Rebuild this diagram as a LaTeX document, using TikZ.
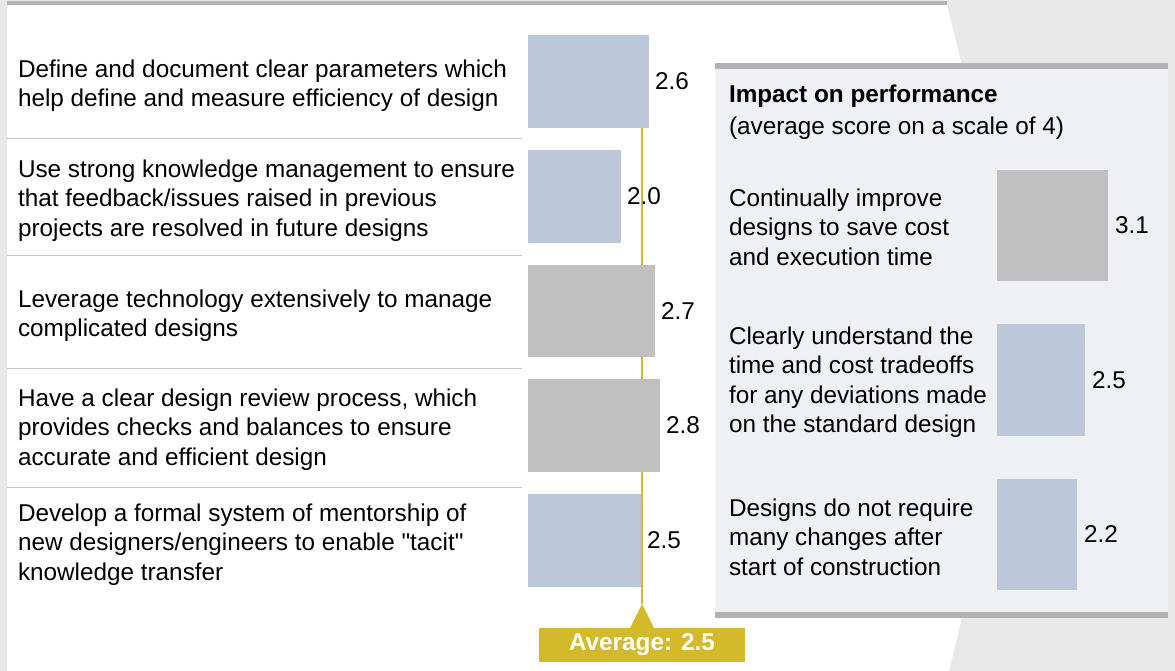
\documentclass[tikz,border=0pt]{standalone}
\usepackage{fontspec}
\setmainfont{Liberation Sans}
\newfontfamily\plainsans{Liberation Sans}
\definecolor{bggrey}{HTML}{E8E8E8}
\definecolor{topline}{HTML}{B3B3B3}
\definecolor{sepgrey}{HTML}{C8C8C8}
\definecolor{barblue}{HTML}{BCC7DA}
\definecolor{bargrey}{HTML}{C0C0C0}
\definecolor{panelbg}{HTML}{EFF0F4}
\definecolor{panelline}{HTML}{B2B2B2}
\definecolor{gold}{HTML}{D4B92A}
\tikzset{
  txt/.style={anchor=west, align=left, inner sep=0pt, outer sep=0pt, font=\plainsans\fontsize{24.3}{29.5}\selectfont},
  val/.style={anchor=west, inner sep=0pt, outer sep=0pt, font=\plainsans\fontsize{24.3}{29.5}\selectfont},
  bar/.style={fill=#1, draw=none, inner sep=0pt, outer sep=0pt, anchor=north west},
  sepline/.style={draw=sepgrey, line width=1pt},
  avgbox/.style={fill=gold, text=white, inner sep=0pt, minimum width=206pt, minimum height=34pt, font=\plainsans\fontsize{24.3}{29.5}\selectfont\bfseries},
}
\begin{document}
\begin{tikzpicture}[x=1pt,y=-1pt]
\useasboundingbox (0,0) rectangle (1175,671);
% background
\fill[bggrey] (0,0) rectangle (1175,671);
\fill[white] (7,5) -- (947,5) -- (1030,338) -- (949,671) -- (7,671) -- cycle;
\fill[topline] (7,1.5) rectangle (947,5);

% separators
\draw[sepline] (7,139) -- (522,139);
\draw[sepline] (7,255) -- (522,255);
\draw[sepline] (7,368) -- (522,368);
\draw[sepline] (7,487) -- (522,487);

% average line
\coordinate (avgtop) at (642,128);
\coordinate (avgapex) at (642,604);
\draw[gold, line width=2.2pt] (avgtop) -- (avgapex);
\fill[gold] (630,628) -- (avgapex) -- (654,628) -- cycle;
\node[avgbox] (avg) at (642,645) {Average: 2.5};

% left items
\node[txt] (t1) at (18,85.5) {Define and document clear parameters which\\help define and measure efficiency of design};
\node[bar=barblue, minimum width=121pt, minimum height=93pt] (b1) at (528,35) {};
\node[val] (v1) at ([xshift=6pt]b1.east) {2.6};

\node[txt] (t2) at (18,200.5) {Use strong knowledge management to ensure\\that feedback/issues raised in previous\\projects are resolved in future designs};
\node[bar=barblue, minimum width=93pt, minimum height=93pt] (b2) at (528,150) {};
\node[val] (v2) at ([xshift=6pt]b2.east) {2.0};

\node[txt] (t3) at (18,315.5) {Leverage technology extensively to manage\\complicated designs};
\node[bar=bargrey, minimum width=127pt, minimum height=92pt] (b3) at (528,265) {};
\node[val] (v3) at ([xshift=6pt]b3.east) {2.7};

\node[txt] (t4) at (18,429.5) {Have a clear design review process, which\\provides checks and balances to ensure\\accurate and efficient design};
\node[bar=bargrey, minimum width=132pt, minimum height=93pt] (b4) at (528,379) {};
\node[val] (v4) at ([xshift=6pt]b4.east) {2.8};

\node[txt] (t5) at (18,544.5) {Develop a formal system of mentorship of\\new designers/engineers to enable "tacit"\\knowledge transfer};
\node[bar=barblue, minimum width=113pt, minimum height=93pt] (b5) at (528,494) {};
\node[val] (v5) at ([xshift=6pt]b5.east) {2.5};

% right panel
\fill[panelbg] (715,63) rectangle (1168,617);
\fill[panelline] (715,63) rectangle (1168,69);
\fill[panelline] (715,612) rectangle (1168,618);

\node[txt, font=\plainsans\fontsize{24.3}{29.5}\selectfont\bfseries] (ptitle) at (729,96) {Impact on performance};
\node[txt] (psub) at (729,128) {(average score on a scale of 4)};

\node[txt] (r1) at (729,227) {Continually improve\\designs to save cost\\and execution time};
\node[bar=bargrey, minimum width=111pt, minimum height=111pt] (rb1) at (997,170) {};
\node[val] (rv1) at ([xshift=7pt]rb1.east) {3.1};

\node[txt] (r2) at (729,382) {Clearly understand the\\time and cost tradeoffs\\for any deviations made\\on the standard design};
\node[bar=barblue, minimum width=88pt, minimum height=112pt] (rb2) at (997,324) {};
\node[val] (rv2) at ([xshift=7pt]rb2.east) {2.5};

\node[txt] (r3) at (729,537) {Designs do not require\\many changes after\\start of construction};
\node[bar=barblue, minimum width=80pt, minimum height=111pt] (rb3) at (997,479) {};
\node[val] (rv3) at ([xshift=7pt]rb3.east) {2.2};
\end{tikzpicture}
\end{document}
